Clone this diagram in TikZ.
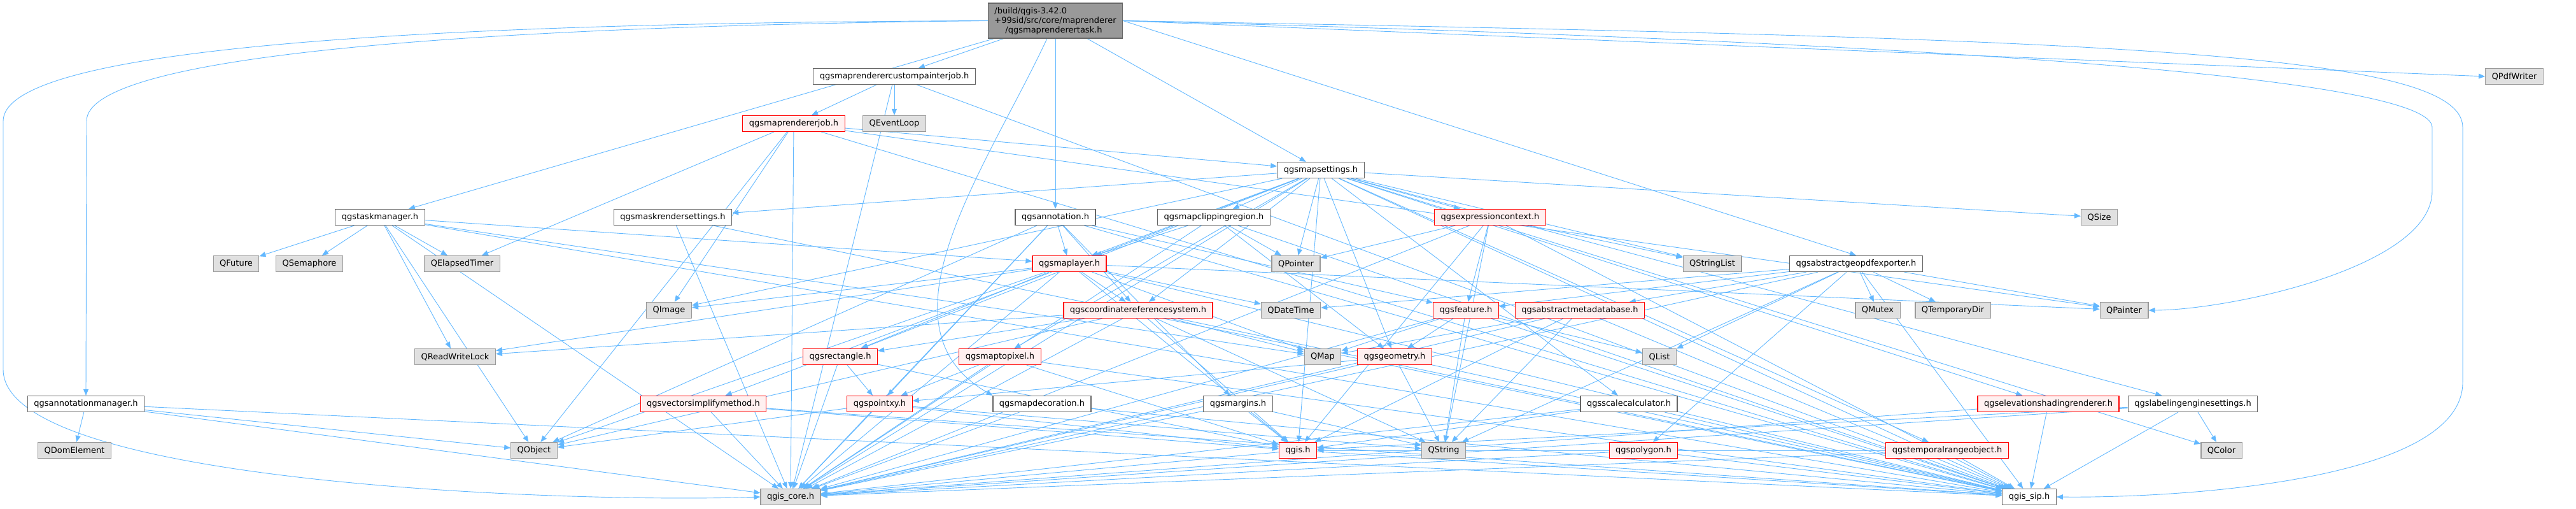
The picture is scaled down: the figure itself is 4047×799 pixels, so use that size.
\documentclass[tikz,border=0pt]{standalone}
\usepackage{fontspec}
\setmainfont{DejaVu Sans}
\usetikzlibrary{arrows.meta}
\pgfdeclarelayer{edges}
\pgfsetlayers{edges,main}
\definecolor{edgeblue}{HTML}{63B8FF}
\definecolor{extfill}{HTML}{E0E0E0}
\definecolor{extline}{HTML}{999999}
\definecolor{hdrline}{HTML}{666666}
\definecolor{trfill}{HTML}{FFF0F0}
\tikzset{
  hdr/.style={draw=hdrline, fill=white, line width=1.2pt, minimum height=25pt,
    inner xsep=10pt, inner ysep=0pt, font=\fontsize{13}{15}\selectfont},
  ext/.style={hdr, draw=extline, fill=extfill},
  trunc/.style={hdr, draw=red, fill=trfill},
  roothdr/.style={hdr, draw=hdrline, fill=extline, minimum height=55pt, align=left}
}
\begin{document}
\begin{tikzpicture}[x=1pt, y=-1pt]
  \useasboundingbox (0,0) rectangle (4047,799);
  % headers, row by row
  \node[roothdr] (root) at (1658,32.5) {/build/qgis-3.42.0\\+99sid/src/core/maprenderer\\\hspace*{17pt}/qgsmaprenderertask.h};
  \node[hdr] (cpjob) at (1405,120) {qgsmaprenderercustompainterjob.h};
  \node[ext] (pdfw) at (3950,120) {QPdfWriter};
  \node[trunc] (rjob) at (1247,194) {qgsmaprendererjob.h};
  \node[ext] (evloop) at (1405,194) {QEventLoop};
  \node[hdr] (mset) at (2075,267) {qgsmapsettings.h};
  \node[hdr] (tmgr) at (597,341) {qgstaskmanager.h};
  \node[hdr] (maskrs) at (1057,341) {qgsmaskrendersettings.h};
  \node[hdr] (annot) at (1658,341) {qgsannotation.h};
  \node[hdr] (clipreg) at (1907,341) {qgsmapclippingregion.h};
  \node[trunc] (exprctx) at (2341,341) {qgsexpressioncontext.h};
  \node[ext] (qsize) at (3298,341) {QSize};
  \node[ext] (qfuture) at (371,414) {QFuture};
  \node[ext] (qsem) at (486,414) {QSemaphore};
  \node[ext] (qelapsed) at (726,414) {QElapsedTimer};
  \node[trunc] (mlayer) at (1680,414) {qgsmaplayer.h};
  \node[ext] (qpointer) at (2036,414) {QPointer};
  \node[ext] (qstrlist) at (2690,414) {QStringList};
  \node[hdr] (gpdf) at (2916,414) {qgsabstractgeopdfexporter.h};
  \node[ext] (qimage) at (1051,487) {QImage};
  \node[trunc] (crs) at (1788,487) {qgscoordinatereferencesystem.h};
  \node[ext] (qdatetime) at (2028,487) {QDateTime};
  \node[trunc] (feature) at (2303,487) {qgsfeature.h};
  \node[trunc] (metadb) at (2482,487) {qgsabstractmetadatabase.h};
  \node[ext] (qmutex) at (2950,487) {QMutex};
  \node[ext] (qtmpdir) at (3068,487) {QTemporaryDir};
  \node[ext] (qpainter) at (3337,487) {QPainter};
  \node[ext] (qrwlock) at (715,560) {QReadWriteLock};
  \node[trunc] (rect) at (1320,560) {qgsrectangle.h};
  \node[trunc] (m2p) at (1571,560) {qgsmaptopixel.h};
  \node[ext] (qmap) at (2078,560) {QMap};
  \node[trunc] (geom) at (2191,560) {qgsgeometry.h};
  \node[ext] (qlist) at (2607,560) {QList};
  \node[hdr] (annman) at (135,634) {qgsannotationmanager.h};
  \node[trunc] (vsimp) at (1105,634) {qgsvectorsimplifymethod.h};
  \node[trunc] (pointxy) at (1382,634) {qgspointxy.h};
  \node[hdr] (mdeco) at (1637,634) {qgsmapdecoration.h};
  \node[hdr] (margins) at (1945,634) {qgsmargins.h};
  \node[hdr] (scalec) at (2559,634) {qgsscalecalculator.h};
  \node[trunc] (elev) at (3218,634) {qgselevationshadingrenderer.h};
  \node[hdr] (labeng) at (3445,634) {qgslabelingenginesettings.h};
  \node[ext] (qdom) at (117,707) {QDomElement};
  \node[ext] (qobject) at (839,707) {QObject};
  \node[trunc] (qgis) at (2039,707) {qgis.h};
  \node[ext] (qstring) at (2268,707) {QString};
  \node[trunc] (polygon) at (2582,707) {qgspolygon.h};
  \node[trunc] (temporal) at (3059,707) {qgstemporalrangeobject.h};
  \node[ext] (qcolor) at (3490,707) {QColor};
  \node[ext] (core) at (1242,780) {qgis\_core.h};
  \node[hdr] (sip) at (3188,780) {qgis\_sip.h};
  \begin{pgfonlayer}{edges}
  \begin{scope}[->, >={Triangle[length=10pt,width=8pt]}, color=edgeblue, line width=0.9pt]
    % qgsmaprenderertask.h
    \draw (root.west) .. controls (600,36) and (5,80) .. (5,190) -- (5,580) .. controls (5,760) and (900,790) .. (core.west);
    \draw (root.west) .. controls (700,42) and (136,90) .. (136,190) -- (annman.north);
    \draw (root.east) .. controls (3300,60) and (3869,80) .. (3869,200) -- (3869,600) .. controls (3869,760) and (3400,782) .. (sip.east);
    \draw (root.east) .. controls (3200,70) and (3821,130) .. (3821,200) -- (3821,300) .. controls (3821,420) and (3500,487) .. (qpainter.east);
    \draw (root.east) to (pdfw.west);
    \draw (root.east) to (gpdf.north);
    \draw (root) to (tmgr);
    \draw (root) to (cpjob);
    \draw (root) to (annot);
    \draw (root) to (mset);
    \draw (root) to[out=-115,in=150] (mdeco.north west);
    % qgsmaprenderercustompainterjob.h
    \draw (cpjob) to (rjob);
    \draw (cpjob) to (evloop);
    \draw (cpjob) to (core);
    \draw (cpjob) to (sip);
    % qgsmaprendererjob.h
    \draw (rjob) to (mset);
    \draw (rjob) to (qimage);
    \draw (rjob) to (qpainter);
    \draw (rjob) to (qobject);
    \draw (rjob) to (qelapsed);
    \draw (rjob) to (core);
    \draw (rjob) to (sip);
    % qgsmapsettings.h
    \draw (mset) to (maskrs);
    \draw (mset) to (clipreg);
    \draw (mset) to (exprctx);
    \draw (mset) to (qsize);
    \draw (mset) to (mlayer);
    \draw (mset) to (qpointer);
    \draw (mset) to (qstrlist);
    \draw (mset) to (qimage);
    \draw (mset) to (crs);
    \draw (mset) to (rect);
    \draw (mset) to (m2p);
    \draw (mset) to (geom);
    \draw (mset) to (vsimp);
    \draw (mset) to (scalec);
    \draw (mset) to (elev);
    \draw (mset) to (labeng);
    \draw (mset) to (temporal);
    \draw (mset) to (qcolor);
    \draw (mset) to (qgis);
    \draw (mset) to (core);
    \draw (mset) to (sip);
    % qgstaskmanager.h
    \draw (tmgr) to (qfuture);
    \draw (tmgr) to (qsem);
    \draw (tmgr) to (qelapsed);
    \draw (tmgr) to (qrwlock);
    \draw (tmgr) to (qobject);
    \draw (tmgr) to (qmap);
    \draw (tmgr) to (mlayer);
    \draw (tmgr) to (core);
    \draw (tmgr) to (sip);
    % qgsmaskrendersettings.h
    \draw (maskrs) to (core);
    \draw (maskrs) to (sip);
    % qgsannotation.h
    \draw (annot) to (mlayer);
    \draw (annot) to (crs);
    \draw (annot) to (feature);
    \draw (annot) to (pointxy);
    \draw (annot) to (margins);
    \draw (annot) to (qobject);
    \draw (annot) to (core);
    \draw (annot) to (sip);
    % qgsmapclippingregion.h
    \draw (clipreg) to (mlayer);
    \draw (clipreg) to (qpointer);
    \draw (clipreg) to (geom);
    \draw (clipreg) to (core);
    \draw (clipreg) to (sip);
    % qgsexpressioncontext.h
    \draw (exprctx) to (qpointer);
    \draw (exprctx) to (qstrlist);
    \draw (exprctx) to (feature);
    \draw (exprctx) to (qstring);
    \draw (exprctx) to (qgis);
    \draw (exprctx) to (core);
    \draw (exprctx) to (sip);
    % qgsmaplayer.h
    \draw (mlayer) to (qimage);
    \draw (mlayer) to (crs);
    \draw (mlayer) to (qdatetime);
    \draw (mlayer) to (qpainter);
    \draw (mlayer) to (rect);
    \draw (mlayer) to (qrwlock);
    \draw (mlayer) to (qmap);
    \draw (mlayer) to (qobject);
    \draw (mlayer) to (qgis);
    \draw (mlayer) to (core);
    \draw (mlayer) to (sip);
    % qgsabstractgeopdfexporter.h
    \draw (gpdf) to (qdatetime);
    \draw (gpdf) to (feature);
    \draw (gpdf) to (metadb);
    \draw (gpdf) to (qmutex);
    \draw (gpdf) to (qtmpdir);
    \draw (gpdf) to (qpainter);
    \draw (gpdf) to (qlist);
    \draw (gpdf) to (polygon);
    \draw (gpdf) to (qstring);
    \draw (gpdf) to (core);
    \draw (gpdf) to (sip);
    % qgscoordinatereferencesystem.h
    \draw (crs) to (rect);
    \draw (crs) to (qrwlock);
    \draw (crs) to (qmap);
    \draw (crs) to (qobject);
    \draw (crs) to (qstring);
    \draw (crs) to (qgis);
    \draw (crs) to (core);
    \draw (crs) to (sip);
    % qgsfeature.h
    \draw (feature) to (qmap);
    \draw (feature) to (geom);
    \draw (feature) to (qlist);
    \draw (feature) to (qstring);
    \draw (feature) to (core);
    \draw (feature) to (sip);
    % qgsabstractmetadatabase.h
    \draw (metadb) to (qmap);
    \draw (metadb) to (qstring);
    \draw (metadb) to (qgis);
    \draw (metadb) to (core);
    \draw (metadb) to (sip);
    % the rest
    \draw (rect) to (pointxy);
    \draw (rect) to (qgis);
    \draw (rect) to (core);
    \draw (m2p) to (pointxy);
    \draw (m2p) to (qgis);
    \draw (m2p) to (core);
    \draw (m2p) to (sip);
    \draw (geom) to (pointxy);
    \draw (geom) to (qstring);
    \draw (geom) to (core);
    \draw (geom) to (sip);
    \draw (annman) to (qdom);
    \draw (annman) to (qobject);
    \draw (annman) to (core);
    \draw (annman) to (sip);
    \draw (vsimp) to (qgis);
    \draw (vsimp) to (core);
    \draw (vsimp) to (sip);
    \draw (pointxy) to (qobject);
    \draw (pointxy) to (qstring);
    \draw (pointxy) to (qgis);
    \draw (pointxy) to (core);
    \draw (mdeco) to (core);
    \draw (mdeco) to (sip);
    \draw (margins) to (qgis);
    \draw (margins) to (qstring);
    \draw (margins) to (core);
    \draw (scalec) to (qgis);
    \draw (scalec) to (core);
    \draw (scalec) to (sip);
    \draw (elev) to (core);
    \draw (elev) to (sip);
    \draw (labeng) to (qcolor);
    \draw (labeng) to (qgis);
    \draw (labeng) to (core);
    \draw (labeng) to (sip);
    \draw (polygon) to (core);
    \draw (polygon) to (sip);
    \draw (temporal) to (qgis);
    \draw (temporal) to (core);
    \draw (temporal) to (sip);
    \draw (qgis) to (core);
    \draw (qgis) to (sip);
  \end{scope}
  \end{pgfonlayer}
\end{tikzpicture}
\end{document}
